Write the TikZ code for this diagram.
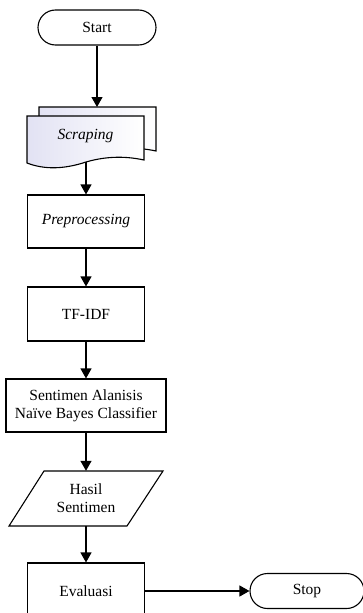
\documentclass[tikz,border=0pt]{standalone}
\usepackage{fontspec}
\setmainfont{Liberation Serif}
\usetikzlibrary{arrows.meta,shapes.misc}
\begin{document}
\begin{tikzpicture}[x=1pt,y=-1pt,
  every node/.style={font=\fontsize{15.5}{18}\selectfont, align=center, inner sep=0pt},
  line/.style={line width=1.1pt},
  arr/.style={line width=1.2pt, -{Triangle[width=11pt,length=10pt]}},
  procbox/.style={draw, line width=1.1pt, fill=white, rectangle},
  term/.style={draw, line width=1.1pt, fill=white, rounded rectangle, minimum height=35pt},
  docfill/.style={line width=1.1pt, draw, left color={rgb,255:red,226;green,226;blue,243}, right color=white}
]
\clip (0,0) rectangle (363,613);
\useasboundingbox (0,0) rectangle (363,613);

% Start
\node[term, minimum width=118pt] (start) at (97,27.5) {Start};

% Scraping (multi-document)
\path[docfill] (39,107) -- (156,107) -- (156,151)
  .. controls (142,148) and (122,146) .. (98,153)
  .. controls (77,160) and (57,161) .. (39,154) -- cycle;
\path[docfill] (27,116) -- (144,116) -- (144,160)
  .. controls (130,157) and (110,155) .. (86,162)
  .. controls (65,169) and (45,170) .. (27,163) -- cycle;
\node[minimum width=117pt, minimum height=40pt] (scr) at (85.5,136) {\itshape Scraping};
\coordinate (scrtop) at (97,107);
\coordinate (scrb) at (86,162.3);

% Preprocessing
\node[procbox, minimum width=117pt, minimum height=53pt] (prep) at (86,221.5) {\itshape Preprocessing};

% TF-IDF
\node[procbox, minimum width=117pt, minimum height=54pt] (tfidf) at (86,314) {TF-IDF};

% Sentimen
\node[procbox, minimum width=160pt, minimum height=53pt] (sent) at (86,405.5) {Sentimen Alanisis\\Naïve Bayes Classifier};

% Hasil Sentimen (parallelogram)
\draw[line, fill=white] (44,471) -- (163,471) -- (127,526) -- (9,526) -- cycle;
\node[minimum width=80pt, minimum height=55pt] (hasil) at (86,498.5) {Hasil\\Sentimen};

% Evaluasi
\node[procbox, minimum width=117pt, minimum height=56pt] (eval) at (86,591) {Evaluasi};

% Stop
\node[term, minimum width=114pt] (stop) at (307,591) {Stop};

% connectors
\draw[arr] (start.south) -- (scrtop);
\draw[arr] (scrb) -- (prep.north);
\draw[arr] (prep.south) -- (tfidf.north);
\draw[arr] (tfidf.south) -- (sent.north);
\draw[arr] (sent.south) -- (hasil.north);
\draw[arr] (hasil.south) -- (eval.north);
\draw[arr] (eval.east) -- (stop.west);
\end{tikzpicture}
\end{document}
